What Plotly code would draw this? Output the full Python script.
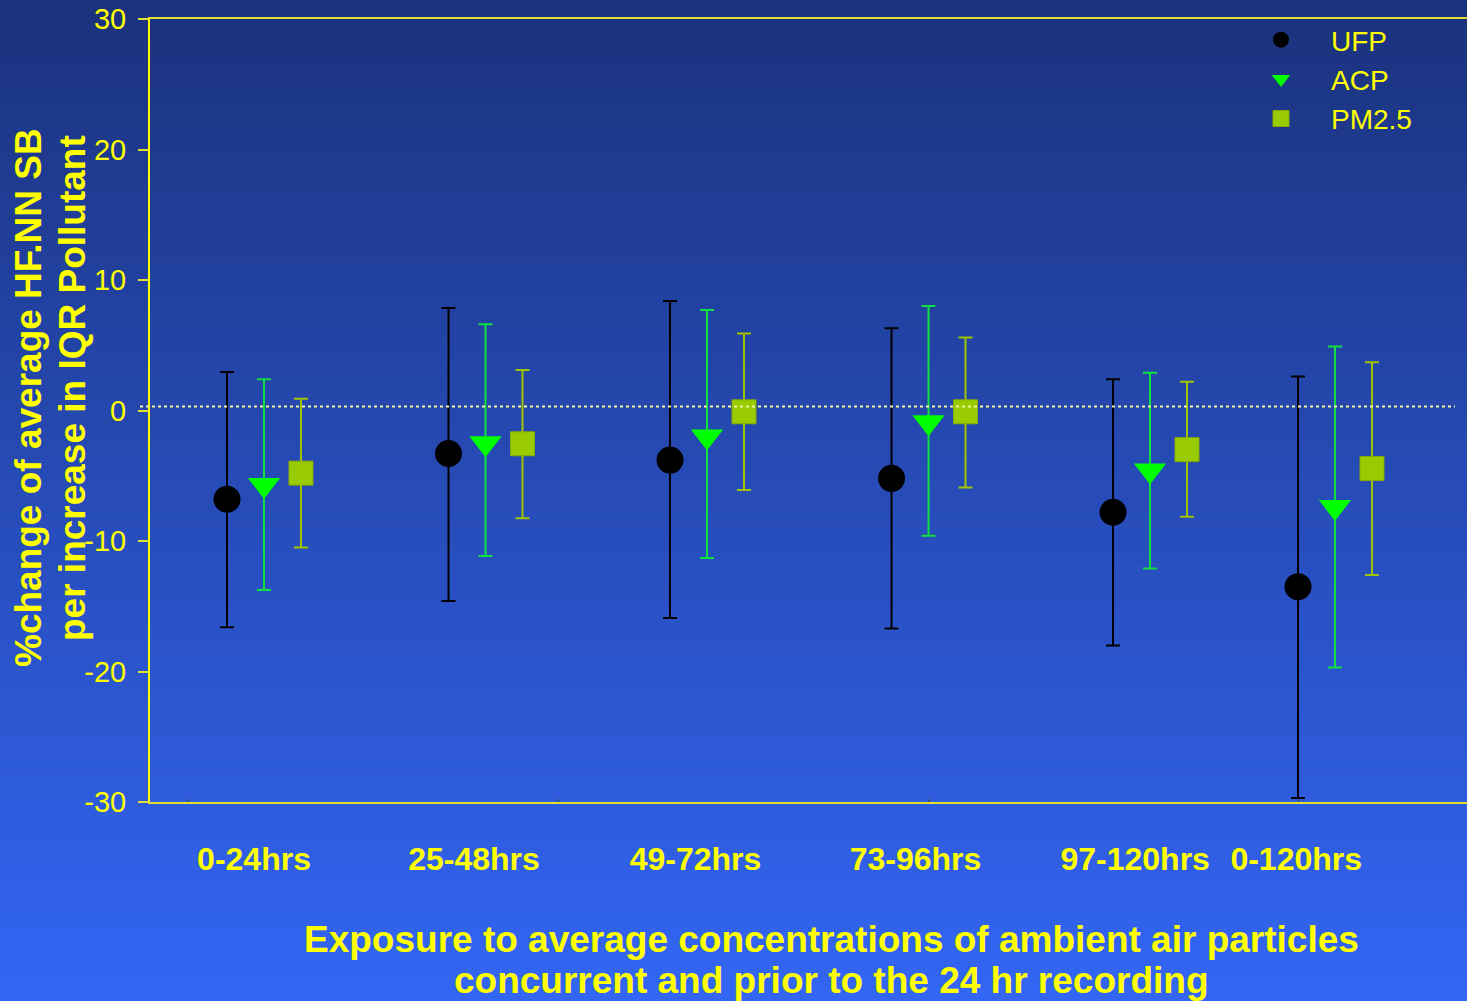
import plotly.graph_objects as go

# ---------------- data ----------------
periods = ["0-24hrs", "25-48hrs", "49-72hrs", "73-96hrs", "97-120hrs", "0-120hrs"]
group_pos = [0.0, 1.0, 2.0, 3.0, 4.0, 4.835]           # UFP x-position of each group
label_pos = [0.122, 1.115, 2.115, 3.108, 4.10, 4.827]  # category label positions
series_offset = {"UFP": 0.0, "ACP": 0.167, "PM2.5": 0.334}

ufp_est = [-6.8, -3.3, -3.8, -5.2, -7.8, -13.5]
ufp_up = [2.95, 7.85, 8.4, 6.3, 2.4, 2.6]
ufp_lo = [-16.6, -14.6, -15.9, -16.7, -18.0, -29.7]

acp_est = [-5.7, -2.5, -2.0, -0.9, -4.6, -7.4]
acp_up = [2.4, 6.6, 7.7, 8.0, 2.9, 4.9]
acp_lo = [-13.75, -11.15, -11.3, -9.6, -12.1, -19.7]

pm_est = [-4.8, -2.55, -0.1, -0.1, -3.0, -4.45]
pm_up = [0.9, 3.1, 5.9, 5.6, 2.2, 3.7]
pm_lo = [-10.5, -8.25, -6.1, -5.9, -8.15, -12.6]

y_ticks = [-30, -20, -10, 0, 10, 20, 30]
y_ticktext = ["-30", "-20", "-10", "0", "10", "20", "30"]
ref_line = 0.3

y_title_lines = ["%change of average HF.NN SB", "per increase in IQR Pollutant"]
x_title_lines = ["Exposure to average concentrations of ambient air particles",
                 "concurrent and prior to the 24 hr recording"]

YELLOW = "#ffff00"
FONT = "Arial, Liberation Sans, sans-serif"

W, H = 1467, 1001
ML, MR, MT, MB = 150, 0, 19, 199
PW, PH = W - ML - MR, H - MT - MB


def px_x(px):
    return (px - ML) / PW


def px_y(py):
    return 1 - (py - MT) / PH


series = [
    ("UFP", ufp_est, ufp_up, ufp_lo,
     dict(symbol="circle", size=27, color="#000000", line=dict(width=0)), "#000000"),
    ("ACP", acp_est, acp_up, acp_lo,
     dict(symbol="triangle-down", size=28, color="#00ff00", line=dict(width=0)), "#10e040"),
    ("PM2.5", pm_est, pm_up, pm_lo,
     dict(symbol="square", size=24, color="#99cc00", line=dict(width=1, color="#88aa00")), "#a0c400"),
]

fig = go.Figure()
for name, est, up, lo, marker, ecol in series:
    xs = [g + series_offset[name] for g in group_pos]
    fig.add_trace(go.Scatter(
        x=xs, y=est, mode="markers", name=name, marker=marker,
        error_y=dict(type="data", symmetric=False,
                     array=[u - e for u, e in zip(up, est)],
                     arrayminus=[e - l for e, l in zip(est, lo)],
                     color=ecol, thickness=2, width=7),
    ))

# vertical gradient background (page-wide bands, drawn below the plot)
top_rgb = (27, 50, 124)
bot_rgb = (51, 102, 245)
n = 160
shapes = []
for i in range(n):
    t = i / (n - 1)
    c = tuple(round(top_rgb[k] + (bot_rgb[k] - top_rgb[k]) * t) for k in range(3))
    shapes.append(dict(type="rect", xref="paper", yref="paper", layer="below",
                       x0=px_x(0), x1=px_x(W),
                       y0=px_y(H * (i + 1) / n), y1=px_y(H * i / n) + 0.001,
                       fillcolor="rgb(%d,%d,%d)" % c, line=dict(width=0)))
fig.update_layout(shapes=shapes)

fig.add_shape(type="line", xref="paper", yref="y", x0=px_x(140), x1=px_x(1455),
              y0=ref_line, y1=ref_line, layer="above",
              line=dict(color="#f4f4a8", width=2, dash="dot"))

fig.update_layout(
    width=W, height=H,
    margin=dict(l=ML, r=MR, t=MT, b=MB),
    paper_bgcolor="#2a4fc0",
    plot_bgcolor="rgba(0,0,0,0)",
    font=dict(family=FONT, color=YELLOW),
    showlegend=True,
    legend=dict(x=px_x(1231), y=px_y(15), xanchor="left", yanchor="top",
                bgcolor="rgba(0,0,0,0)", font=dict(size=28, color=YELLOW, family=FONT),
                itemwidth=90, tracegroupgap=0),
    xaxis=dict(range=[-0.3476, 5.598], showgrid=False, zeroline=False,
               showline=True, linecolor="#e0e030", linewidth=2, mirror=True,
               tickmode="array", tickvals=label_pos, ticktext=periods, ticks="",
               ticklabelstandoff=28,
               tickfont=dict(size=32, family=FONT, color=YELLOW, weight="bold"),
               minor=dict(tick0=-0.1716, dtick=1.669, ticks="inside", ticklen=3,
                          tickcolor="#404040", tickwidth=1, showgrid=False)),
    yaxis=dict(range=[-30, 30], tickmode="array", tickvals=y_ticks, ticktext=y_ticktext,
               showgrid=False, zeroline=False,
               showline=True, linecolor=YELLOW, linewidth=2, ticks="outside",
               ticklen=10, tickcolor="#e0e030", tickwidth=2, ticklabelstandoff=6,
               tickfont=dict(size=29, color=YELLOW, family=FONT)),
)

# y-axis title (two rotated lines)
for txt, cx, cy in zip(y_title_lines, [28, 72], [398, 388]):
    fig.add_annotation(xref="paper", yref="paper", x=px_x(cx), y=px_y(cy),
                       xanchor="center", yanchor="middle", showarrow=False, textangle=-90,
                       text="<b>%s</b>" % txt,
                       font=dict(size=37, color=YELLOW, family=FONT))

# x-axis title (two lines)
for txt, cy in zip(x_title_lines, [939, 980]):
    fig.add_annotation(xref="paper", yref="paper", x=px_x(831), y=px_y(cy),
                       xanchor="center", yanchor="middle", showarrow=False,
                       text="<b>%s</b>" % txt,
                       font=dict(size=37, color=YELLOW, family=FONT))

fig.write_html("out.html")
